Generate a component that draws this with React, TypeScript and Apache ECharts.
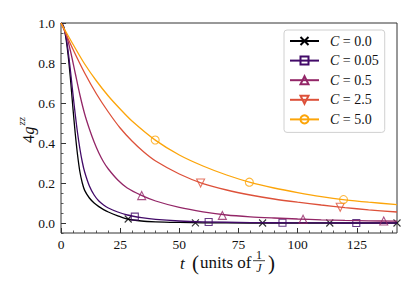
import React, { useEffect, useRef } from "react";
import * as echarts from "echarts";

// ---- data ----
const C_VALUES = ["0.0", "0.05", "0.5", "2.5", "5.0"];
const COLORS = ["#000004", "#420a68", "#932667", "#dd513a", "#fca50a"];

const X_MAJOR = [0, 25, 50, 75, 100, 125];
const X_MINOR = [5, 10, 15, 20, 30, 35, 40, 45, 55, 60, 65, 70, 80, 85, 90, 95, 105, 110, 115, 120, 130, 135, 140];
const Y_MAJOR = [0, 0.2, 0.4, 0.6, 0.8, 1.0];
const Y_MINOR = [-0.05, 0.05, 0.1, 0.15, 0.25, 0.3, 0.35, 0.45, 0.5, 0.55, 0.65, 0.7, 0.75, 0.85, 0.9, 0.95];

// C = 0.0
const tB = [0, 1, 2, 3, 4, 5, 6, 7, 8, 9, 10, 12, 14, 16, 18, 20, 24, 28, 34, 40, 50, 60, 80, 100, 120, 142];
const yB = [1.0, 0.985, 0.93, 0.84, 0.72, 0.58, 0.45, 0.34, 0.255, 0.2, 0.163, 0.125, 0.1, 0.082, 0.067, 0.055, 0.036, 0.02, 0.01, 0.006, 0.003, 0.001, 0, 0, 0, 0];
const mBt = [28.4, 56.8, 85.2, 113.6, 142];
const mBy = [0.02, 0.001, 0, 0, 0];

// C = 0.05
const tP = [0, 1, 2, 3, 4, 5, 6, 7, 8, 9, 10, 12, 14, 16, 18, 20, 24, 28, 34, 40, 50, 60, 80, 100, 120, 142];
const yP = [1.0, 0.985, 0.94, 0.86, 0.76, 0.65, 0.545, 0.45, 0.37, 0.305, 0.255, 0.185, 0.14, 0.11, 0.09, 0.075, 0.055, 0.04, 0.027, 0.018, 0.01, 0.006, 0.002, 0.001, 0, 0];
const mPt = [31.2, 62.4, 93.6, 124.8];
const mPy = [0.032, 0.005, 0.001, 0];

// C = 0.5
const tK = [0, 2, 4, 6, 8, 10, 12, 14, 16, 18, 20, 24, 28, 34, 40, 50, 60, 70, 80, 90, 100, 110, 120, 130, 142];
const yK = [1.0, 0.95, 0.86, 0.75, 0.64, 0.545, 0.47, 0.405, 0.35, 0.305, 0.27, 0.215, 0.175, 0.138, 0.11, 0.078, 0.056, 0.04, 0.031, 0.025, 0.02, 0.016, 0.013, 0.011, 0.009];
const mKt = [34.1, 68.2, 102.3, 136.4];
const mKy = [0.137, 0.038, 0.019, 0.01];

// C = 2.5
const tR = [0, 5, 10, 15, 20, 25, 30, 35, 40, 50, 60, 70, 80, 90, 100, 110, 120, 130, 142];
const yR = [1.0, 0.87, 0.75, 0.645, 0.555, 0.475, 0.41, 0.355, 0.31, 0.245, 0.197, 0.165, 0.14, 0.12, 0.104, 0.09, 0.077, 0.066, 0.055];
const mRt = [59, 118];
const mRy = [0.2, 0.079];

// C = 5.0
const tO = [0, 5, 10, 15, 20, 25, 30, 40, 50, 60, 70, 80, 90, 100, 110, 120, 130, 142];
const yO = [1.0, 0.895, 0.795, 0.71, 0.635, 0.57, 0.51, 0.413, 0.34, 0.285, 0.24, 0.203, 0.175, 0.152, 0.132, 0.116, 0.104, 0.092];
const mOt = [39.8, 79.6, 119.4];
const mOy = [0.415, 0.204, 0.117];

const SERIF = "Liberation Serif";

const CURVES = [
  { t: tB, y: yB, mt: mBt, my: mBy, symbol: "path://M0,0L10,10M10,0L0,10", size: 7 },
  { t: tP, y: yP, mt: mPt, my: mPy, symbol: "rect", size: 7 },
  { t: tK, y: yK, mt: mKt, my: mKy, symbol: "triangle", size: 8 },
  { t: tR, y: yR, mt: mRt, my: mRy, symbol: "path://M0,0L10,0L5,10Z", size: 8 },
  { t: tO, y: yO, mt: mOt, my: mOy, symbol: "circle", size: 8 },
];

export default function App() {
  const ref = useRef<HTMLDivElement>(null);

  useEffect(() => {
    const chart = echarts.init(ref.current!, null, { renderer: "svg" });

    const series: any[] = [];
    CURVES.forEach((c, i) => {
      const color = COLORS[i];
      const itemStyle = { color: "rgba(255,255,255,0)", borderColor: color, borderWidth: 1.1 };
      series.push({
        type: "line",
        name: C_VALUES[i],
        data: c.t.map((t, k) => [t, c.y[k]]),
        smooth: 0.3,
        showSymbol: false,
        symbol: c.symbol,
        symbolSize: c.size,
        lineStyle: { color, width: 1.3 },
        itemStyle,
        z: 2 + i,
      });
      series.push({
        type: "scatter",
        name: C_VALUES[i] + "_m",
        data: c.mt.map((t, k) => [t, c.my[k]]),
        symbol: c.symbol,
        symbolSize: c.size,
        itemStyle,
        z: 2 + i,
      });
    });

    const tickColor = "#333";
    const txt = { fontFamily: SERIF, color: "#111" };

    const option: any = {
      animation: false,
      backgroundColor: "#fff",
      textStyle: { fontFamily: SERIF },
      grid: {
        left: 61,
        top: 23,
        width: 336,
        height: 210,
        show: true,
        borderColor: "#333",
        borderWidth: 1,
        backgroundColor: "transparent",
      },
      xAxis: [
        {
          type: "value",
          min: 0,
          max: 142,
          position: "bottom",
          axisLine: { show: false, onZero: false },
          splitLine: { show: false },
          axisTick: { show: true, inside: true, length: 5, customValues: X_MAJOR, lineStyle: { color: tickColor, width: 1 } },
          axisLabel: { customValues: X_MAJOR, margin: 4, fontSize: 13.5, ...txt },
        },
        {
          type: "value",
          min: 0,
          max: 142,
          position: "bottom",
          axisLine: { show: false, onZero: false },
          splitLine: { show: false },
          axisTick: { show: true, inside: true, length: 2.5, customValues: X_MINOR, lineStyle: { color: tickColor, width: 0.8 } },
          axisLabel: { show: false },
        },
      ],
      yAxis: [
        {
          type: "value",
          min: -0.05,
          max: 1.0,
          position: "left",
          axisLine: { show: false, onZero: false },
          splitLine: { show: false },
          axisTick: { show: true, inside: true, length: 5, customValues: Y_MAJOR, lineStyle: { color: tickColor, width: 1 } },
          axisLabel: {
            customValues: Y_MAJOR,
            margin: 6,
            fontSize: 13.5,
            ...txt,
            formatter: (v: number) => v.toFixed(1),
          },
        },
        {
          type: "value",
          min: -0.05,
          max: 1.0,
          position: "left",
          axisLine: { show: false, onZero: false },
          splitLine: { show: false },
          axisTick: { show: true, inside: true, length: 2.5, customValues: Y_MINOR, lineStyle: { color: tickColor, width: 0.8 } },
          axisLabel: { show: false },
        },
      ],
      legend: {
        data: C_VALUES,
        orient: "vertical",
        left: 284,
        top: 30,
        itemWidth: 29,
        itemHeight: 10,
        itemGap: 5.6,
        padding: [4, 6, 6, 5],
        borderColor: "#d0d0d0",
        borderWidth: 1,
        borderRadius: 3,
        backgroundColor: "rgba(255,255,255,0.85)",
        selectedMode: false,
        formatter: (n: string) => `{i|C} = ${n}`,
        textStyle: {
          fontFamily: SERIF,
          fontSize: 14,
          lineHeight: 14,
          color: "#111",
          rich: {
            i: { fontFamily: SERIF, fontSize: 14, fontStyle: "italic", color: "#111", padding: [0, 0, 0, 6] },
          },
        },
      },
      graphic: [
        {
          type: "group",
          x: 28,
          y: 128,
          rotation: Math.PI / 2,
          children: [
            { type: "text", x: -15, y: 0, style: { text: "4", fontFamily: SERIF, fontSize: 16, fill: "#111", verticalAlign: "middle", align: "left" } },
            { type: "text", x: -6.5, y: 0, style: { text: "g", fontFamily: SERIF, fontSize: 16, fontStyle: "italic", fill: "#111", verticalAlign: "middle", align: "left" } },
            { type: "text", x: 2.5, y: -7, style: { text: "zz", fontFamily: SERIF, fontSize: 11, fontStyle: "italic", fill: "#111", verticalAlign: "middle", align: "left" } },
          ],
        },
        { type: "text", x: 180, y: 263, style: { text: "t", fontFamily: SERIF, fontSize: 17, fontStyle: "italic", fill: "#111", verticalAlign: "middle", align: "left" } },
        { type: "text", x: 192, y: 263, style: { text: "(", fontFamily: SERIF, fontSize: 21, fill: "#111", verticalAlign: "middle", align: "left" } },
        { type: "text", x: 200, y: 262, style: { text: "units of", fontFamily: SERIF, fontSize: 17, fill: "#111", verticalAlign: "middle", align: "left" } },
        { type: "text", x: 259, y: 254.5, style: { text: "1", fontFamily: SERIF, fontSize: 12, fill: "#111", verticalAlign: "middle", align: "center" } },
        { type: "line", shape: { x1: 253, y1: 260.7, x2: 265, y2: 260.7 }, style: { stroke: "#111", lineWidth: 0.8 } },
        { type: "text", x: 259, y: 267.5, style: { text: "J", fontFamily: SERIF, fontSize: 12, fontStyle: "italic", fill: "#111", verticalAlign: "middle", align: "center" } },
        { type: "text", x: 268, y: 263, style: { text: ")", fontFamily: SERIF, fontSize: 21, fill: "#111", verticalAlign: "middle", align: "left" } },
      ],
      series,
    };

    chart.setOption(option);
    return () => chart.dispose();
  }, []);

  return (
    <div
      ref={ref}
      style={{ position: "fixed", left: 0, top: 0, width: 415, height: 295, background: "#fff" }}
    />
  );
}
